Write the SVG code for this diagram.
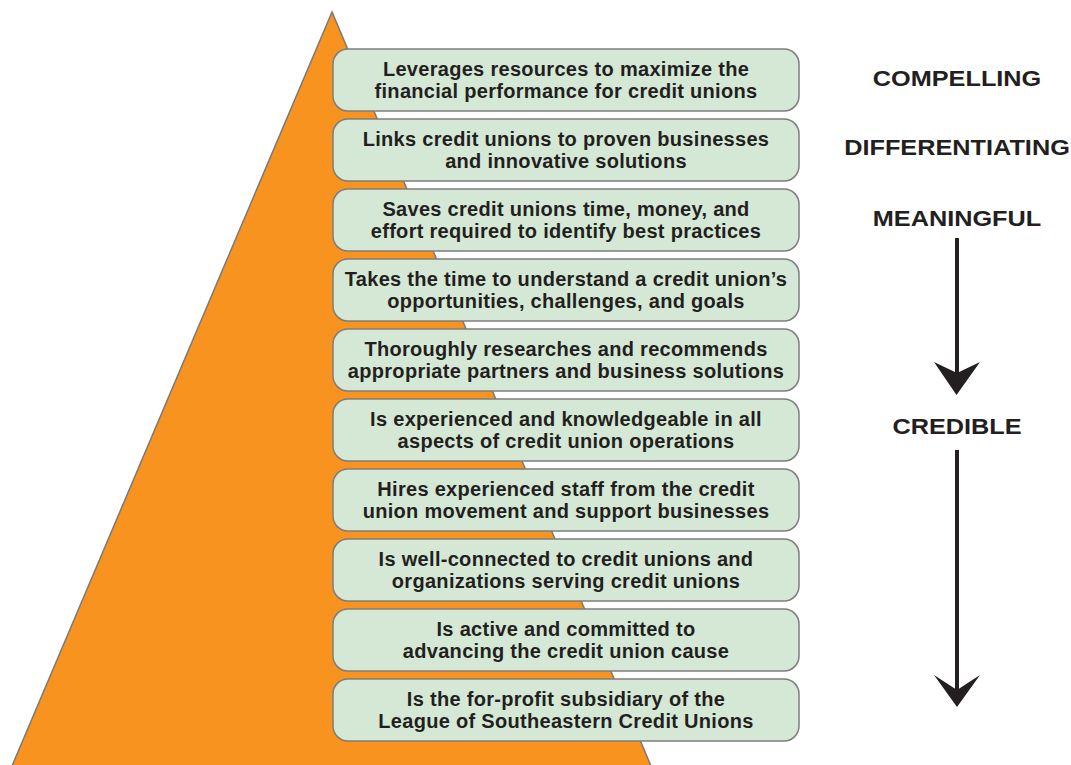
<svg xmlns="http://www.w3.org/2000/svg" width="1071" height="765" viewBox="0 0 1071 765">
  <style>
    .box { fill: #d5e8d6; stroke: #7d7d7d; stroke-width: 1.5; }
    .txt { font-family: "Liberation Sans", Arial, sans-serif; font-weight: bold; font-size: 20px; letter-spacing: 0.3px; fill: #231f20; text-anchor: middle; }
    .lbl { font-family: "Liberation Sans", Arial, sans-serif; font-weight: bold; font-size: 22px; fill: #231f20; text-anchor: middle; }
    .shaft { stroke: #231f20; stroke-width: 4; fill: none; }
    .head { fill: #231f20; }
  </style>

  <!-- pyramid -->
  <polygon id="pyramid" points="332,12 12,766 651,766" fill="#f7931e" stroke="#7a7a7a" stroke-width="1.5"/>

  <g id="tier1"><rect class="box" x="333" y="49" width="466" height="62" rx="15"/>
    <text class="txt" x="566" y="76">Leverages resources to maximize the</text>
    <text class="txt" x="566" y="97.5">financial performance for credit unions</text></g>
  <g id="tier2"><rect class="box" x="333" y="119" width="466" height="62" rx="15"/>
    <text class="txt" x="566" y="146">Links credit unions to proven businesses</text>
    <text class="txt" x="566" y="167.5">and innovative solutions</text></g>
  <g id="tier3"><rect class="box" x="333" y="189" width="466" height="62" rx="15"/>
    <text class="txt" x="566" y="216">Saves credit unions time, money, and</text>
    <text class="txt" x="566" y="237.5">effort required to identify best practices</text></g>
  <g id="tier4"><rect class="box" x="333" y="259" width="466" height="62" rx="15"/>
    <text class="txt" x="566" y="286">Takes the time to understand a credit union’s</text>
    <text class="txt" x="566" y="307.5">opportunities, challenges, and goals</text></g>
  <g id="tier5"><rect class="box" x="333" y="329" width="466" height="62" rx="15"/>
    <text class="txt" x="566" y="356">Thoroughly researches and recommends</text>
    <text class="txt" x="566" y="377.5">appropriate partners and business solutions</text></g>
  <g id="tier6"><rect class="box" x="333" y="399" width="466" height="62" rx="15"/>
    <text class="txt" x="566" y="426">Is experienced and knowledgeable in all</text>
    <text class="txt" x="566" y="447.5">aspects of credit union operations</text></g>
  <g id="tier7"><rect class="box" x="333" y="469" width="466" height="62" rx="15"/>
    <text class="txt" x="566" y="496">Hires experienced staff from the credit</text>
    <text class="txt" x="566" y="517.5">union movement and support businesses</text></g>
  <g id="tier8"><rect class="box" x="333" y="539" width="466" height="62" rx="15"/>
    <text class="txt" x="566" y="566">Is well-connected to credit unions and</text>
    <text class="txt" x="566" y="587.5">organizations serving credit unions</text></g>
  <g id="tier9"><rect class="box" x="333" y="609" width="466" height="62" rx="15"/>
    <text class="txt" x="566" y="636">Is active and committed to</text>
    <text class="txt" x="566" y="657.5">advancing the credit union cause</text></g>
  <g id="tier10"><rect class="box" x="333" y="679" width="466" height="62" rx="15"/>
    <text class="txt" x="566" y="706">Is the for-profit subsidiary of the</text>
    <text class="txt" x="566" y="727.5">League of Southeastern Credit Unions</text></g>

  <!-- level labels (set slightly extended) -->
  <g id="labels" transform="translate(957,0) scale(1.15,1)">
    <text class="lbl" x="0" y="86">COMPELLING</text>
    <text class="lbl" x="0" y="155.5">DIFFERENTIATING</text>
    <text class="lbl" x="0" y="226">MEANINGFUL</text>
    <text class="lbl" x="0" y="434">CREDIBLE</text>
  </g>

  <!-- downward arrows -->
  <g id="connectors">
    <line class="shaft" x1="957" y1="238" x2="957" y2="378"/>
    <polygon class="head" points="934,362 957,373 980,362 956.5,395"/>
    <line class="shaft" x1="957" y1="450" x2="957" y2="694"/>
    <polygon class="head" points="934,675 957,690 980,675 957,707"/>
  </g>
</svg>
